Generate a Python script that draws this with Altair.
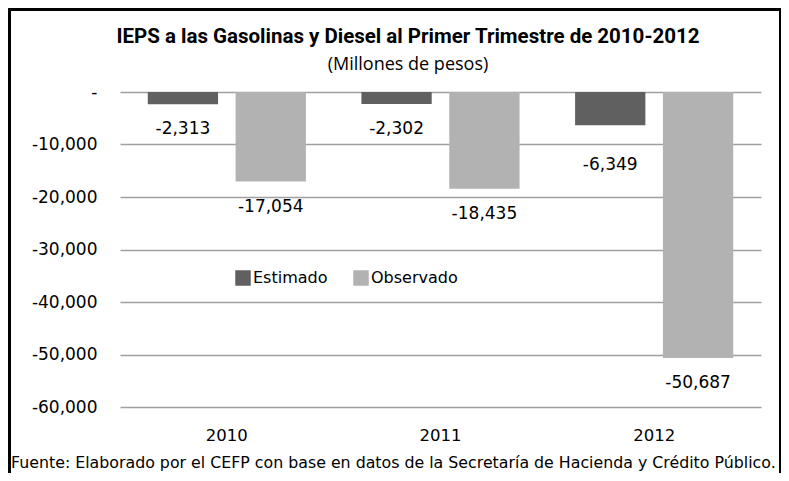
import altair as alt
import pandas as pd

years = ["2010", "2011", "2012"]
estimado = [-2313, -2302, -6349]
observado = [-17054, -18435, -50687]
series = ["Estimado", "Observado"]
title_text = "IEPS a las Gasolinas y Diesel al Primer Trimestre de 2010-2012"
subtitle_text = "(Millones de pesos)"
source_text = "Fuente: Elaborado por el CEFP con base en datos de la Secretaría de Hacienda y Crédito Público."

rows = []
for i, y in enumerate(years):
    rows.append({"year": y, "serie": series[0], "value": estimado[i]})
    rows.append({"year": y, "serie": series[1], "value": observado[i]})
df = pd.DataFrame(rows)

FONT = "DejaVu Sans"
W, H = 641, 315
PL, PT, PR, PB = 112, 84, 20, 66

x_enc = alt.X("year:N", title=None, sort=years,
              scale=alt.Scale(paddingInner=0, paddingOuter=0),
              axis=alt.Axis(domain=False, ticks=False, labelAngle=0, labelFontSize=16.5,
                            labelPadding=20, labelColor="#000", labelFont=FONT))
xoff = alt.XOffset("serie:N", sort=series,
                   scale=alt.Scale(paddingInner=0.2, paddingOuter=0.316))
y_enc = alt.Y("value:Q", title=None,
              scale=alt.Scale(domain=[-60000, 0], nice=False),
              axis=alt.Axis(values=[0, -10000, -20000, -30000, -40000, -50000, -60000],
                            labelExpr="datum.value == 0 ? '-' : '-' + format(abs(datum.value), ',')",
                            domain=False, ticks=False, grid=True, gridColor="#a0a0a0",
                            gridWidth=1.5, labelFontSize=17, labelPadding=23,
                            labelColor="#000", labelFont=FONT))

base = alt.Chart(df)

bars = base.mark_bar().encode(
    x=x_enc, xOffset=xoff, y=y_enc,
    color=alt.Color("serie:N", sort=series,
                    scale=alt.Scale(domain=series, range=["#606060", "#b2b2b2"]),
                    legend=alt.Legend(title=None, orient="none", legendX=115, legendY=178,
                                      direction="horizontal", symbolType="square",
                                      symbolSize=240, symbolStrokeWidth=0,
                                      labelFontSize=16, labelFont=FONT, labelColor="#000",
                                      columnPadding=25, labelOffset=2)),
)

lab_base = base.transform_calculate(
    lab="'-' + format(abs(datum.value), ',')",
    far="datum.year == '2012' && datum.serie == 'Estimado'"
)
lab_enc = dict(
    x=alt.X("year:N", sort=years), xOffset=alt.XOffset("serie:N", sort=series), y="value:Q",
    text="lab:N",
)
labels = lab_base.transform_filter("!datum.far").mark_text(
    fontSize=17, font=FONT, color="#000", baseline="middle", dy=25).encode(**lab_enc)
labels_far = lab_base.transform_filter("datum.far").mark_text(
    fontSize=17, font=FONT, color="#000", baseline="middle", dy=40).encode(**lab_enc)

title = alt.Chart(pd.DataFrame({"t": [title_text]})).mark_text(
    fontSize=20.5, font="Roboto", fontWeight="bold", color="#000", align="center", baseline="middle"
).encode(x=alt.value(288), y=alt.value(-55), text="t:N")

subtitle = alt.Chart(pd.DataFrame({"t": [subtitle_text]})).mark_text(
    fontSize=18, font="Open Sans", color="#000", align="center", baseline="middle"
).encode(x=alt.value(288), y=alt.value(-27), text="t:N")

foot = alt.Chart(pd.DataFrame({"t": [source_text]})).mark_text(
    fontSize=15.8, font=FONT, color="#000", align="left", baseline="middle"
).encode(x=alt.value(-109), y=alt.value(H + 56), text="t:N")

border_df = pd.DataFrame({"k": [0]})
left_b = alt.Chart(border_df).mark_rule(color="#000", strokeWidth=3).encode(
    x=alt.value(-PL + 1.5), y=alt.value(-PT), y2=alt.value(H + PB))
top_b = alt.Chart(border_df).mark_rule(color="#000", strokeWidth=3).encode(
    x=alt.value(-PL), x2=alt.value(W + PR), y=alt.value(-PT + 1.5))
right_b = alt.Chart(border_df).mark_rule(color="#000", strokeWidth=2).encode(
    x=alt.value(W + PR - 1), y=alt.value(-PT), y2=alt.value(H + PB))

chart = alt.layer(bars, labels, labels_far, title, subtitle, foot, left_b, top_b, right_b).properties(
    width=W, height=H,
    autosize=alt.AutoSizeParams(type="none"),
    padding={"left": PL, "top": PT, "right": PR, "bottom": PB},
).configure_view(stroke=None)

chart.save("out.html", embed_options={"renderer": "svg", "actions": False})
